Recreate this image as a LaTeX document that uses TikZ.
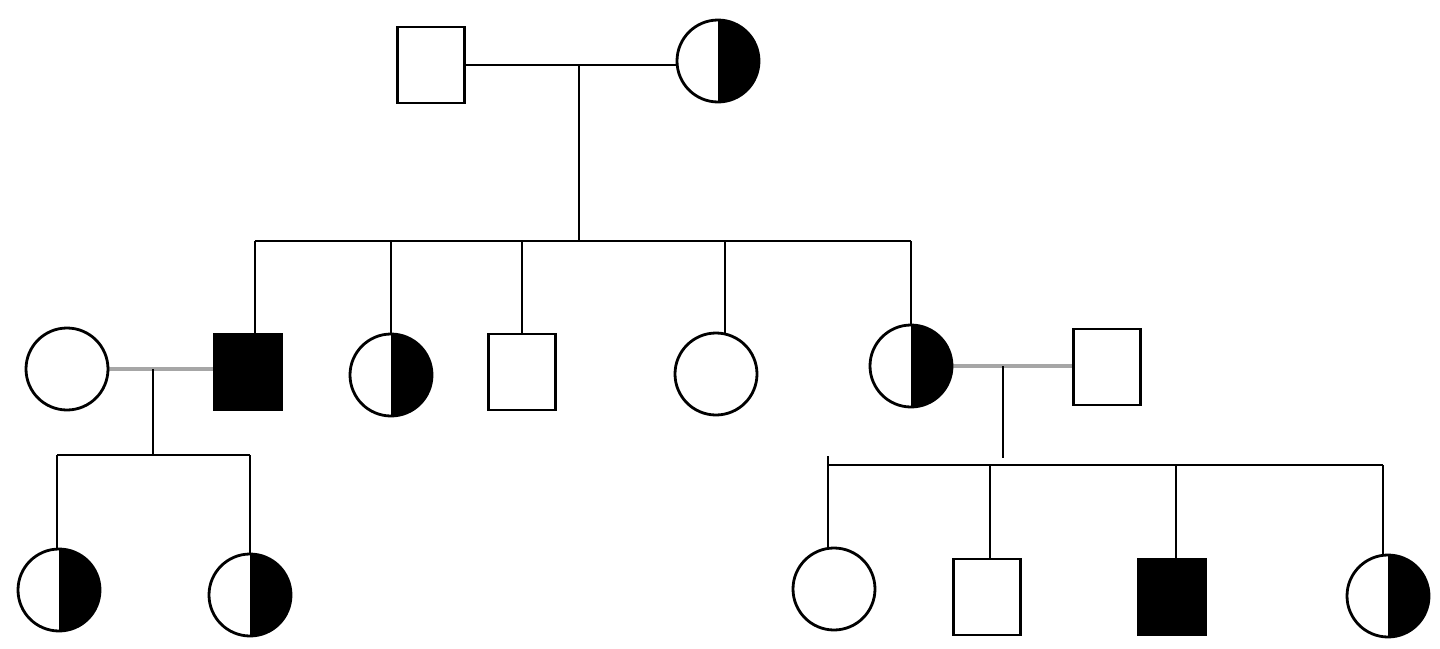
\documentclass[tikz,border=0pt]{standalone}
\pgfdeclarelayer{bg}
\pgfsetlayers{bg,main}
\tikzset{
  person/.style={draw=black, line width=2.8pt, fill=white, inner sep=0pt, outer sep=0pt},
  fem/.style={person, circle, minimum size=82pt},
  mal/.style={person, rectangle, minimum width=67pt, minimum height=76pt},
  affm/.style={mal, fill=black},
  carrier/.style={fem, path picture={\fill[black] (path picture bounding box.north) rectangle (path picture bounding box.south east);}},
  link/.style={draw=black, line width=2.9pt},
  mate/.style={draw=gray!70, line width=3.8pt},
}
\begin{document}
\begin{tikzpicture}[x=1pt, y=-1pt]
\useasboundingbox (0,0) rectangle (1440,648);
% generation I
\node[mal] (m1) at (431,65) {};
\node[carrier] (f1) at (718,61) {};
% generation II
\node[fem] (w2) at (67,369) {};
\node[affm] (a2) at (248,372) {};
\node[carrier] (b2) at (391,375) {};
\node[mal] (c2) at (522,372) {};
\node[fem] (d2) at (716,374) {};
\node[carrier] (e2) at (911,366) {};
\node[mal] (h2) at (1107,367) {};
% generation III
\node[carrier] (g1) at (59,590) {};
\node[carrier] (g2) at (250,595) {};
\node[fem] (k1) at (834,589) {};
\node[mal] (k2) at (987,597) {};
\node[affm] (k3) at (1172,597) {};
\node[carrier] (k4) at (1388,596) {};
% junctions
\coordinate (j1) at (579,65);
\coordinate (s1) at (579,241);
\coordinate (j2) at (153,369);
\coordinate (s2) at (153,455);
\coordinate (j3) at (1003,366);
\coordinate (t3) at (1003,458);
\coordinate (s3) at (1003,465);
\coordinate (tick) at (828,456);
\begin{pgfonlayer}{bg}
  % couple I
  \draw[link] (m1) -- (m1 -| f1);
  \draw[link] (j1) -- (s1);
  \draw[link] ([xshift=7pt]s1 -| a2) -- (s1 -| e2);
  \draw[link] ([xshift=7pt]s1 -| a2) -- ([xshift=7pt]a2.north);
  \foreach \c in {b2,c2,e2} \draw[link] (s1 -| \c) -- (\c);
  \draw[link] ([xshift=9pt]s1 -| d2) -- ([xshift=9pt]d2.north);
  % couple II left
  \draw[mate] (w2) -- (w2 -| a2);
  \draw[link] (j2) -- (s2);
  \draw[link] ([xshift=-2pt]s2 -| g1) -- (s2 -| g2);
  \draw[link] ([xshift=-2pt]s2 -| g1) -- ([xshift=-2pt]g1.north);
  \draw[link] (s2 -| g2) -- (g2);
  % couple II right
  \draw[mate] (e2) -- (e2 -| h2);
  \draw[link] (j3) -- (t3);
  \draw[link] (tick) -- (tick |- s3) -- ([xshift=-5pt]s3 -| k4);
  \draw[link] ([xshift=-6pt]s3 -| k1) -- ([xshift=-6pt]k1.north);
  \draw[link] ([xshift=3pt]s3 -| k2) -- ([xshift=3pt]k2.north);
  \draw[link] ([xshift=4pt]s3 -| k3) -- ([xshift=4pt]k3.north);
  \draw[link] ([xshift=-5pt]s3 -| k4) -- ([xshift=-5pt]k4.north);
\end{pgfonlayer}
\end{tikzpicture}
\end{document}
